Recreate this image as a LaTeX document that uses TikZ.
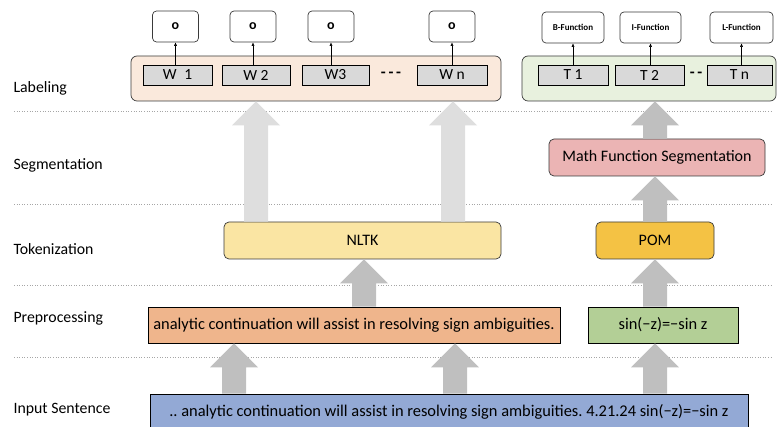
\documentclass[tikz,border=0pt]{standalone}
\usepackage{fontspec}
\setmainfont{Carlito}
\usetikzlibrary{arrows.meta,calc}
\frenchspacing
\definecolor{peach}{HTML}{FAE9DC}
\definecolor{mint}{HTML}{E8F1DE}
\definecolor{tokgray}{HTML}{D9D9D9}
\definecolor{lightarrow}{HTML}{DEDEDE}
\definecolor{darkarrow}{HTML}{BFBFBF}
\definecolor{nltkfill}{HTML}{FAE5A3}
\definecolor{pomfill}{HTML}{F4C244}
\definecolor{mfsfill}{HTML}{EBB4B4}
\definecolor{prefill}{HTML}{EFB58C}
\definecolor{greenfill}{HTML}{B3CF96}
\definecolor{inputfill}{HTML}{93A9D5}
\definecolor{bordergray}{HTML}{3A3A3A}
\newcommand\fatup[4]{%
  \fill[#4] let \p1=(#2.north), \p2=(#3.south) in
    (#1pt-12pt,\y1) -- (#1pt-12pt,\y2-24pt) -- (#1pt-24pt,\y2-24pt) -- (#1pt,\y2)
    -- (#1pt+24pt,\y2-24pt) -- (#1pt+12pt,\y2-24pt) -- (#1pt+12pt,\y1) -- cycle;}
\begin{document}
\begin{tikzpicture}[x=1pt,y=-1pt,
  lay/.style={anchor=west,font=\fontsize{15.8}{17}\selectfont},
  sep/.style={draw=gray!70,dotted,line width=0.6pt},
  outbox/.style={draw=bordergray,fill=white,rounded corners=4pt,line width=0.7pt,inner sep=0pt,minimum height=31pt},
  cont/.style={draw=bordergray,rounded corners=6pt,line width=0.7pt,inner sep=0pt,minimum height=45pt},
  tok/.style={draw=black,fill=tokgray,line width=0.6pt,inner sep=0pt,minimum height=20pt},
  rbox/.style={draw=bordergray,rounded corners=5pt,line width=0.7pt,inner sep=0pt,minimum height=37pt,font=\fontsize{16}{18}\selectfont},
  sbox/.style={draw=black,line width=0.7pt,inner sep=0pt,minimum height=36pt,font=\fontsize{16.4}{18}\selectfont},
  thin/.style={-{Latex[length=3.5pt,width=3pt]},line width=0.5pt,black}
]
\useasboundingbox (0,0) rectangle (781,427);

% layer labels
\node[lay] (l1) at (10,88) {Labeling};
\node[lay] (l2) at (10,165) {Segmentation};
\node[lay] (l3) at (10,249) {Tokenization};
\node[lay] (l4) at (10,318) {Preprocessing};
\node[lay] (l5) at (10,410) {Input Sentence};

% separators
\draw[sep] (14,111) -- (772,111);
\draw[sep] (14,204) -- (772,204);
\draw[sep] (14,285) -- (772,285);
\draw[sep] (14,357) -- (772,357);

% containers
\node[cont,fill=peach,minimum width=370pt] (cw) at (316,78.5) {};
\node[cont,fill=mint,minimum width=254pt] (ct) at (649,78.5) {};

% token boxes
\begin{scope}[every node/.append style={font=\fontsize{15.5}{17}\selectfont}]
\node[tok,minimum width=69pt] (w1) at (177.5,75) {W\enspace1};
\node[tok,minimum width=68pt] (w2) at (256,75) {W 2};
\node[tok,minimum width=67pt] (w3) at (335.5,75) {W3};
\node[font=\fontsize{16}{17}\selectfont\bfseries] (wd) at (391,75) {-\,-\,-};
\node[tok,minimum width=70pt] (wn) at (452,75) {W n};
\node[tok,minimum width=70pt] (t1) at (573,75) {T 1};
\node[tok,minimum width=69pt] (t2) at (649.5,75) {T 2};
\node[font=\fontsize{16}{17}\selectfont\bfseries] (td) at (696,75) {-\,-};
\node[tok,minimum width=65pt] (tn) at (739.5,75) {T n};
\end{scope}

% output boxes
\begin{scope}[every node/.append style={font=\fontsize{14}{15}\selectfont\bfseries}]
\node[outbox,minimum width=46pt] (o1) at (175.5,26.5) {o};
\node[outbox,minimum width=46pt] (o2) at (253,26.5) {o};
\node[outbox,minimum width=46pt] (o3) at (331,26.5) {o};
\node[outbox,minimum width=46pt] (o4) at (452,26.5) {o};
\end{scope}
\begin{scope}[every node/.append style={font=\fontsize{9}{10}\selectfont\bfseries}]
\node[outbox,minimum width=62pt] (b1) at (573,27.5) {B-Function};
\node[outbox,minimum width=61pt] (b2) at (650.5,27.5) {I-Function};
\node[outbox,minimum width=63pt] (b3) at (741.5,27.5) {L-Function};
\end{scope}

\draw[thin] (o1.south |- w1.north) -- (o1.south);
\draw[thin] (o2.south |- w2.north) -- (o2.south);
\draw[thin] (o3.south |- w3.north) -- (o3.south);
\draw[thin] (o4.south |- wn.north) -- (o4.south);
\draw[thin] (b1.south |- t1.north) -- (b1.south);
\draw[thin] (b2.south |- t2.north) -- (b2.south);
\draw[thin] (b3.south |- tn.north) -- (b3.south);

% processing boxes
\node[rbox,fill=mfsfill,minimum width=216pt] (mfs) at (657,157.5) {Math Function Segmentation};
\node[rbox,fill=nltkfill,minimum width=277pt] (nltk) at (362.5,240.5) {NLTK};
\node[rbox,fill=pomfill,minimum width=118pt] (pom) at (655,240.5) {POM};
\node[sbox,fill=prefill,minimum width=412pt] (pre) at (354,325) {analytic continuation will assist in resolving sign ambiguities.};
\node[sbox,fill=greenfill,minimum width=150pt] (preg) at (663,325) {sin(−z)=−sin z};
\node[sbox,fill=inputfill,minimum width=598pt,minimum height=36pt] (inp) at (449,412) {.. analytic continuation will assist in resolving sign ambiguities. 4.21.24 sin(−z)=−sin z};

% fat arrows
\fatup{234}{inp}{pre}{darkarrow}
\fatup{455}{inp}{pre}{darkarrow}
\fatup{655}{inp}{preg}{darkarrow}
\fatup{364}{pre}{nltk}{darkarrow}
\fatup{655}{preg}{pom}{darkarrow}
\fatup{655}{pom}{mfs}{darkarrow}
\fatup{655}{mfs}{ct}{darkarrow}
\fatup{256}{nltk}{cw}{lightarrow}
\fatup{453}{nltk}{cw}{lightarrow}
\end{tikzpicture}
\end{document}
